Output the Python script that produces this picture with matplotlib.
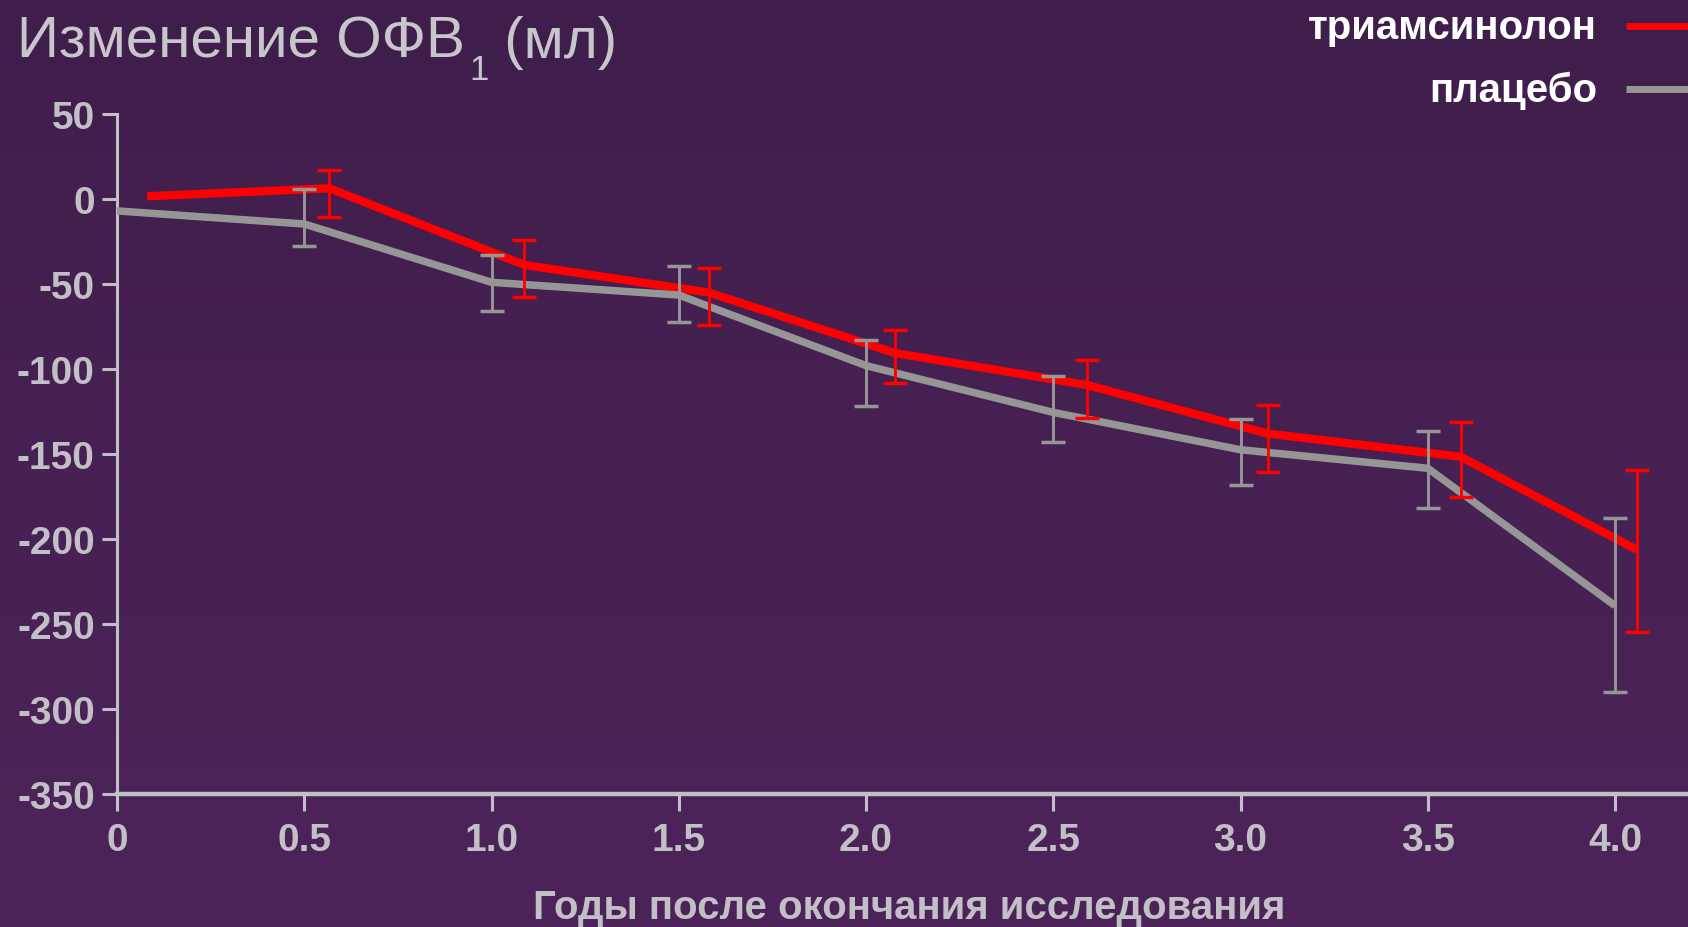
import numpy as np
import matplotlib
matplotlib.use('Agg')
import matplotlib.pyplot as plt

# data (change in FEV1, ml)
years = [0, 0.5, 1.0, 1.5, 2.0, 2.5, 3.0, 3.5, 4.0]

placebo_x = [0, 0.5, 1.0, 1.5, 2.0, 2.5, 3.0, 3.5, 4.0]
placebo_y = [-7, -14.7, -49, -56.5, -98, -125.5, -147.5, -158.4, -239.2]
placebo_hi = [-7, 5.9, -33, -39.4, -83, -104, -129.5, -136.3, -187.5]
placebo_lo = [-7, -27.5, -66.1, -72.5, -121.8, -143.1, -168.5, -182, -290.2]

triam_x = [0.08, 0.567, 1.088, 1.58, 2.077, 2.59, 3.073, 3.588, 4.058]
triam_y = [1.6, 6.3, -38.8, -55, -90.6, -109.4, -138, -151.6, -206.3]
triam_hi = [1.6, 17, -24.1, -40.8, -77.3, -94.9, -121.4, -131.2, -159.4]
triam_lo = [1.6, -10.4, -57.4, -74, -108.4, -129, -160.4, -175, -254.5]

y_ticks = [50, 0, -50, -100, -150, -200, -250, -300, -350]
x_labels = ['0', '0.5', '1.0', '1.5', '2.0', '2.5', '3.0', '3.5', '4.0']

RED = '#ff0000'
GRAY = '#969696'
AXC = '#c2bfc6'
TITLEC = '#c9c5cd'

plt.rcParams['font.family'] = ['Liberation Sans', 'DejaVu Sans']

W, H = 1688, 928
fig = plt.figure(figsize=(W / 100, H / 100), dpi=100)

# background gradient
bg = fig.add_axes([0, 0, 1, 1], zorder=-10)
top = np.array([64, 30, 75]) / 255
bot = np.array([77, 36, 90]) / 255
t = np.linspace(0, 1, 256)[:, None]
grad = (top[None, :] * (1 - t) + bot[None, :] * t)[:, None, :]
bg.imshow(grad, aspect='auto', extent=[0, 1, 0, 1])
bg.axis('off')

# axes: left edge at the x=0 tick, right edge runs to the figure edge
x0_px, x4_px = 117, 1615
y_top_px, y_bot_px = 115, 795
px_per_unit = (x4_px - x0_px) / 4.0
ax = fig.add_axes([x0_px / W, 1 - y_bot_px / H, (W - x0_px) / W, (y_bot_px - y_top_px) / H])
ax.set_facecolor('none')
ax.set_xlim(0, (W - x0_px) / px_per_unit)
ax.set_ylim(-350, 50)


def yerr(y, lo, hi):
    y, lo, hi = np.array(y[1:]), np.array(lo[1:]), np.array(hi[1:])
    return [y - lo, hi - y]


ax.plot(triam_x, triam_y, color=RED, lw=6.0, solid_capstyle='butt', solid_joinstyle='round', zorder=3)
ax.plot(placebo_x, placebo_y, color=GRAY, lw=5.4, solid_capstyle='butt', solid_joinstyle='round', zorder=4)
# first points carry no error bar
ax.errorbar(triam_x[1:], triam_y[1:], yerr=yerr(triam_y, triam_lo, triam_hi),
            fmt='none', ecolor=RED, elinewidth=2.1, capsize=8.5, capthick=2.5, zorder=5)
ax.errorbar(placebo_x[1:], placebo_y[1:], yerr=yerr(placebo_y, placebo_lo, placebo_hi),
            fmt='none', ecolor=GRAY, elinewidth=2.1, capsize=8.5, capthick=2.5, zorder=6)

for s in ['top', 'right']:
    ax.spines[s].set_visible(False)
ax.spines['left'].set_color(AXC)
ax.spines['left'].set_linewidth(2.2)
ax.spines['bottom'].set_color(AXC)
ax.spines['bottom'].set_linewidth(3.2)

ax.set_yticks(y_ticks)
ax.set_yticklabels([str(v) for v in y_ticks])
ax.set_xticks(years)
ax.set_xticklabels(x_labels)
ax.tick_params(axis='y', length=11, width=2.2, color=AXC, labelcolor=AXC, pad=5, labelsize=28)
ax.tick_params(axis='x', length=12, width=2.2, color=AXC, labelcolor=AXC, pad=8, labelsize=28)
for lab in ax.get_xticklabels() + ax.get_yticklabels():
    lab.set_fontweight('bold')

# x-axis title
fig.text(909 / W, 1 - 919 / H, 'Годы после окончания исследования', ha='center', va='baseline',
         fontsize=29, fontweight='bold', color=AXC)

# title with subscript 1
fig.canvas.draw()
r = fig.canvas.get_renderer()
base_y = 1 - 58 / H
t1 = fig.text(17 / W, base_y, 'Изменение ОФВ', fontsize=42, color=TITLEC, va='baseline')
bb = t1.get_window_extent(r)
t2 = fig.text((bb.x1 + 4) / W, base_y - 22 / H, '1', fontsize=25, color=TITLEC, va='baseline')
bb2 = t2.get_window_extent(r)
fig.text(bb2.x1 / W, base_y, ' (мл)', fontsize=42, color=TITLEC, va='baseline')

# legend drawn by hand at the top right
leg_names = ['триамсинолон', 'плацебо']
leg_colors = [RED, GRAY]
leg_y = [28, 91]
for name, c, yy in zip(leg_names, leg_colors, leg_y):
    fig.text(1597 / W, 1 - yy / H, name, ha='right', va='center', fontsize=29,
             fontweight='bold', color='white')
    fig.add_artist(plt.Line2D([1626 / W, 1.0], [1 - (yy - 1) / H] * 2, color=c, lw=5,
                              transform=fig.transFigure, solid_capstyle='butt'))

fig.savefig('out.png', dpi=100)
